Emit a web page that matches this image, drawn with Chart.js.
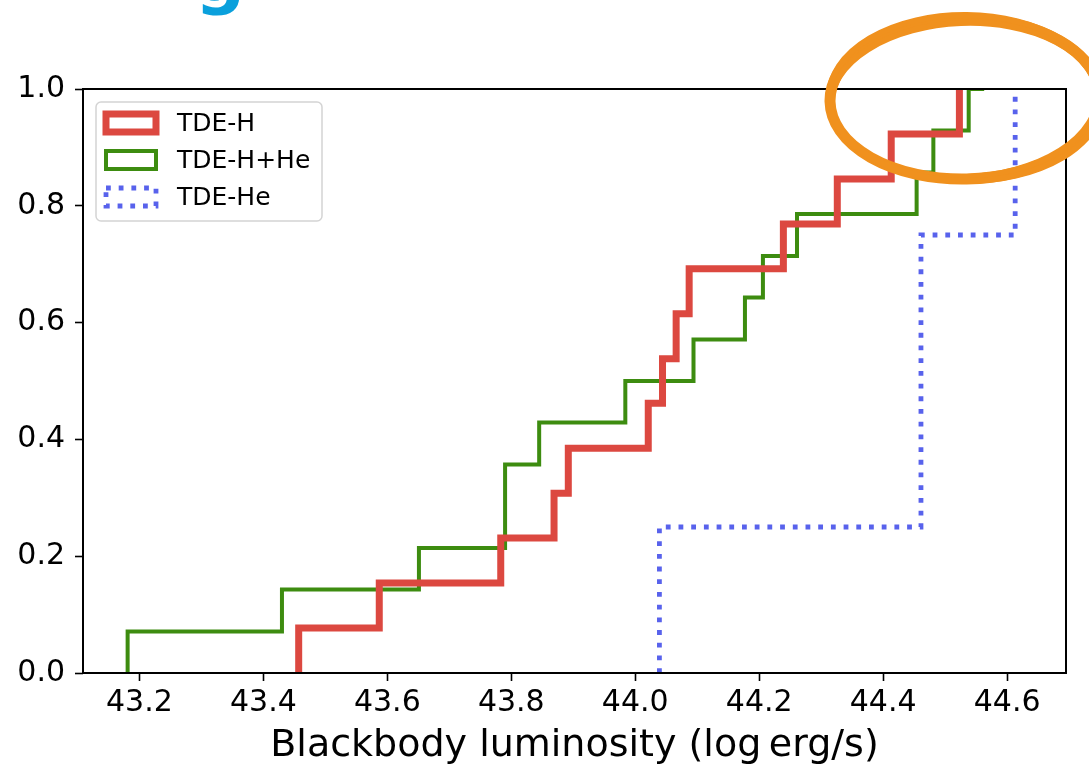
<!DOCTYPE html>
<html>
<head>
<meta charset="utf-8">
<script src="https://cdn.jsdelivr.net/npm/chart.js@4.4.1/dist/chart.umd.min.js"></script>
<style>
  html, body { margin: 0; padding: 0; background: #fff; }
  #wrap { width: 1089px; height: 765px; }
</style>
</head>
<body>
<div id="wrap"><canvas id="cdf" width="1089" height="765"></canvas></div>
<script>
// cumulative fraction of events vs. blackbody luminosity, per spectral class
const tdeHLum  = [43.457, 43.587, 43.783, 43.869, 43.892, 44.021, 44.044, 44.066, 44.087, 44.239, 44.326, 44.413, 44.523];
const tdeHFrac = [0.077, 0.154, 0.231, 0.308, 0.385, 0.462, 0.538, 0.615, 0.692, 0.769, 0.846, 0.923, 1.0];

const tdeHHeLum  = [43.181, 43.430, 43.651, 43.790, 43.790, 43.845, 43.984, 44.094, 44.177, 44.206, 44.261, 44.454, 44.481, 44.538, 44.563];
const tdeHHeFrac = [0.071, 0.143, 0.214, 0.286, 0.357, 0.429, 0.5, 0.571, 0.643, 0.714, 0.786, 0.857, 0.929, 1.0, 1.0];

const tdeHeLum  = [44.039, 44.461, 44.461, 44.613];
const tdeHeFrac = [0.25, 0.5, 0.75, 1.0];

const xTickValues = [43.2, 43.4, 43.6, 43.8, 44.0, 44.2, 44.4, 44.6];
const yTickValues = [0.0, 0.2, 0.4, 0.6, 0.8, 1.0];
const xTitle = 'Blackbody luminosity (log\u2009erg/s)';

const FONT = '"DejaVu Sans", "Liberation Sans", sans-serif';

// step line starts on the axis at the first value, then climbs at each one
function stepPoints(lum, frac) {
    const pts = [{x: lum[0], y: 0}];
    lum.forEach((x, i) => pts.push({x: x, y: frac[i]}));
    return pts;
}

const axesFrame = {
    id: 'axesFrame',
    afterDatasetsDraw(chart) {
        const {ctx, chartArea: a} = chart;
        ctx.save();
        ctx.strokeStyle = '#000';
        ctx.lineWidth = 2;
        ctx.strokeRect(a.left, a.top, a.right - a.left, a.bottom - a.top);
        ctx.restore();
    }
};

const boxLegend = {
    id: 'boxLegend',
    afterDraw(chart) {
        const ctx = chart.ctx;
        ctx.save();
        ctx.beginPath();
        ctx.roundRect(96, 102, 226, 119, 5);
        ctx.fillStyle = 'rgba(255,255,255,0.8)';
        ctx.fill();
        ctx.strokeStyle = '#d4d4d4';
        ctx.lineWidth = 1.5;
        ctx.stroke();
        chart.data.datasets.forEach((ds, i) => {
            const cy = 123 + i * 37;
            ctx.beginPath();
            ctx.rect(106, cy - 9, 50, 18);
            ctx.strokeStyle = ds.borderColor;
            ctx.lineWidth = ds.borderWidth;
            ctx.lineJoin = 'miter';
            ctx.setLineDash(ds.borderDash || []);
            ctx.stroke();
            ctx.setLineDash([]);
            ctx.fillStyle = '#000';
            ctx.font = '25px ' + FONT;
            ctx.textBaseline = 'middle';
            ctx.fillText(ds.label, 177, cy + 1);
        });
        ctx.restore();
    }
};

// heading text cut by the top edge, and the marker circle around the top right
const overlay = {
    id: 'overlay',
    afterDraw(chart) {
        const ctx = chart.ctx;
        ctx.save();
        ctx.fillStyle = '#0aa0dc';
        ctx.font = 'bold 70px ' + FONT;
        ctx.textBaseline = 'alphabetic';
        ctx.fillText('g', 195, 1);

        ctx.strokeStyle = '#f0911e';
        const rings = [
            [965, 99, 135, 80, -0.02, 11],
            [964, 100, 133, 77, -0.04, 6],
            [966, 98, 137, 83, 0.01, 6],
        ];
        rings.forEach(([cx, cy, rx, ry, rot, lw]) => {
            ctx.lineWidth = lw;
            ctx.beginPath();
            ctx.ellipse(cx, cy, rx, ry, rot, 0, Math.PI * 2);
            ctx.stroke();
        });
        ctx.restore();
    }
};

new Chart(document.getElementById('cdf'), {
    type: 'line',
    data: {
        datasets: [
            {
                label: 'TDE-H',
                data: stepPoints(tdeHLum, tdeHFrac),
                stepped: 'before',
                borderColor: '#dc4840',
                borderWidth: 7,
            },
            {
                label: 'TDE-H+He',
                data: stepPoints(tdeHHeLum, tdeHHeFrac),
                stepped: 'before',
                borderColor: '#3d8c10',
                borderWidth: 4,
            },
            {
                label: 'TDE-He',
                data: stepPoints(tdeHeLum, tdeHeFrac),
                stepped: 'before',
                borderColor: '#5862ec',
                borderWidth: 4.8,
                borderDash: [4.8, 7.9],
                borderCapStyle: 'butt',
            },
        ]
    },
    options: {
        responsive: false,
        animation: false,
        layout: { padding: { top: 89, right: 23, left: 0, bottom: 0 } },
        elements: {
            point: { radius: 0, hoverRadius: 0 },
            line: { fill: false, tension: 0, borderJoinStyle: 'miter' },
        },
        datasets: { line: { clip: 0 } },
        plugins: { legend: { display: false }, tooltip: { enabled: false } },
        scales: {
            x: {
                type: 'linear',
                min: 43.109,
                max: 44.695,
                afterBuildTicks: s => { s.ticks = xTickValues.map(v => ({value: v})); },
                afterFit: s => { s.height = 92; },
                grid: { display: true, drawOnChartArea: false, drawTicks: true, tickLength: 8, tickWidth: 1.6, tickColor: '#000' },
                border: { display: false },
                ticks: {
                    color: '#000',
                    padding: 4,
                    maxRotation: 0,
                    font: { family: FONT, size: 30 },
                    callback: v => v.toFixed(1),
                },
                title: {
                    display: true,
                    text: xTitle,
                    color: '#000',
                    padding: { top: 0, bottom: 0 },
                    font: { family: FONT, size: 38, lineHeight: 1 },
                },
            },
            y: {
                min: 0,
                max: 1,
                afterBuildTicks: s => { s.ticks = yTickValues.map(v => ({value: v})); },
                afterFit: s => { s.width = 83; },
                grid: { display: true, drawOnChartArea: false, drawTicks: true, tickLength: 8, tickWidth: 1.6, tickColor: '#000' },
                border: { display: false },
                ticks: {
                    color: '#000',
                    padding: 10,
                    font: { family: FONT, size: 30 },
                    callback: v => v.toFixed(1),
                },
            },
        },
    },
    plugins: [axesFrame, boxLegend, overlay],
});
</script>
</body>
</html>
